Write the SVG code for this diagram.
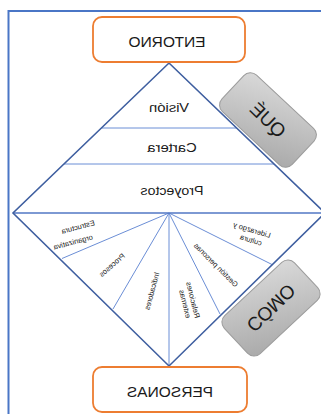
<svg xmlns="http://www.w3.org/2000/svg" width="321" height="414" viewBox="0 0 321 414">
<style>
.lbl{font-family:"Liberation Sans",Arial,sans-serif;fill:#1a1a1a;text-anchor:middle}
.big{font-size:15.5px}
.mid{font-size:13.5px}
.sm{font-size:7.5px}
.tag{font-size:19px}
.orange{fill:#fff;stroke:#ED7D31;stroke-width:1.8}
.edge{fill:none;stroke:#3F5FA0;stroke-width:1.6}
.inner{fill:none;stroke:#6B8ED6;stroke-width:1}
.gbox{stroke:#9C9C9C;stroke-width:1}
</style>
<defs>
<linearGradient id="gq" x1="0" y1="0" x2="1" y2="1"><stop offset="0" stop-color="#dadada"/><stop offset="1" stop-color="#a9a9a9"/></linearGradient>
<linearGradient id="gc" x1="1" y1="0" x2="0" y2="1"><stop offset="0" stop-color="#dadada"/><stop offset="1" stop-color="#a9a9a9"/></linearGradient>
</defs>
<rect width="321" height="414" fill="#fff"/>
<rect id="frame" x="8.5" y="11" width="330" height="420" fill="none" stroke="#4A76C6" stroke-width="2"/>

<g id="connectors">
<line class="inner" x1="101.5" y1="128" x2="236.5" y2="128"/>
<line class="inner" x1="64" y1="164" x2="274" y2="164"/>
<line class="inner" x1="169" y1="213" x2="62" y2="258.5"/>
<line class="inner" x1="169" y1="213" x2="113" y2="309"/>
<line class="inner" x1="169" y1="213" x2="169" y2="366"/>
<line class="inner" x1="169" y1="213" x2="220" y2="314"/>
<line class="inner" x1="169" y1="213" x2="272" y2="264.5"/>
<line x1="13" y1="213" x2="325" y2="213" stroke="#5277C4" stroke-width="1.6"/>
<path class="edge" d="M169 63 L325 213 L169 366 L13 213 Z"/>
</g>

<g id="entorno">
<rect class="orange" x="93" y="17" width="152" height="45" rx="9"/>
<text class="lbl big" transform="translate(167,47) scale(-1,1)">ENTORNO</text>
</g>
<g id="personas">
<rect class="orange" x="93" y="367" width="154" height="45" rx="9"/>
<text class="lbl big" transform="translate(170,397) scale(-1,1)">PERSONAS</text>
</g>

<g id="vision"><text class="lbl mid" transform="translate(169,112) scale(-1.1,1)">Visión</text></g>
<g id="cartera"><text class="lbl mid" transform="translate(172,152) scale(-1.1,1)">Cartera</text></g>
<g id="proyectos"><text class="lbl mid" transform="translate(172,195) scale(-1.05,1)">Proyectos</text></g>

<g id="estructura">
<text class="lbl sm" dominant-baseline="central" transform="translate(78,227) rotate(-15) scale(-1,1)">Estructura</text>
<text class="lbl sm" dominant-baseline="central" transform="translate(73,242) rotate(-15) scale(-1,1)">organizativa</text>
</g>
<g id="procesos"><text class="lbl sm" dominant-baseline="central" transform="translate(112,265) rotate(-41) scale(-1,1)">Procesos</text></g>
<g id="indicadores"><text class="lbl sm" dominant-baseline="central" transform="translate(152,291) rotate(-75) scale(-1,1)">Indicadores</text></g>
<g id="relaciones">
<text class="lbl sm" dominant-baseline="central" transform="translate(193,300) rotate(76) scale(-1,1)">Relaciones</text>
<text class="lbl sm" dominant-baseline="central" transform="translate(185,304) rotate(76) scale(-1,1)">externas</text>
</g>
<g id="gestion"><text class="lbl sm" dominant-baseline="central" transform="translate(216,265) rotate(45) scale(-1,1)">Gestión personas</text></g>
<g id="liderazgo">
<text class="lbl sm" dominant-baseline="central" transform="translate(252,230) rotate(17) scale(-1,1)">Liderazgo y</text>
<text class="lbl sm" dominant-baseline="central" transform="translate(251,240) rotate(17) scale(-1,1)">cultura</text>
</g>

<g id="que">
<rect class="gbox" fill="url(#gq)" x="-48" y="-25" width="96" height="50" rx="9" transform="translate(268,120) rotate(43)"/>
<text class="lbl tag" dominant-baseline="central" transform="translate(268,120) scale(-1,1) rotate(-44)">QUÉ</text>
</g>
<g id="como">
<rect class="gbox" fill="url(#gc)" x="-48" y="-26" width="96" height="52" rx="9" transform="translate(271,308) rotate(-43)"/>
<text class="lbl tag" dominant-baseline="central" transform="translate(271,308) scale(-1,1) rotate(-136)">CÓMO</text>
</g>
</svg>
